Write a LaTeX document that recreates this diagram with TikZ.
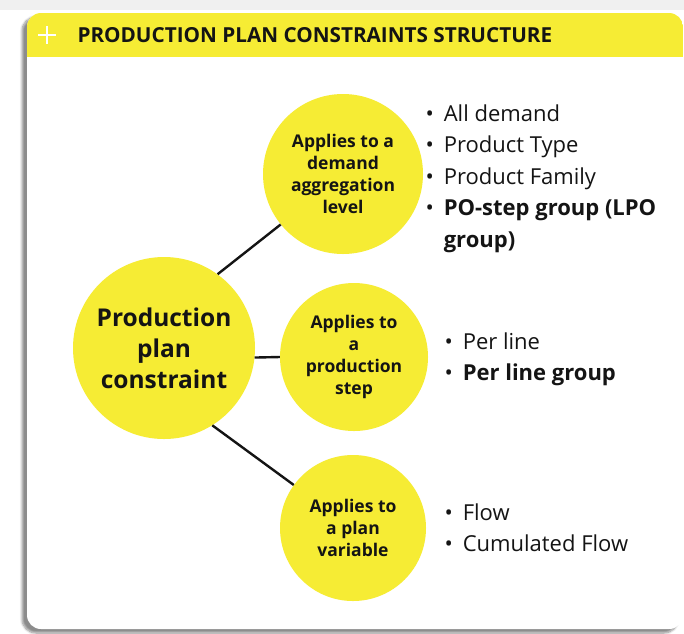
\documentclass[tikz,border=0pt]{standalone}
\usepackage{fontspec}
\setmainfont{Open Sans}
\usetikzlibrary{shadows.blur}
\definecolor{sunny}{RGB}{246,236,52}
\definecolor{ink}{RGB}{20,20,20}
\tikzstyle{card} = [fill=white, rounded corners=14pt,
                    blur shadow={shadow xshift=-5pt, shadow yshift=-4pt,
                                 shadow blur steps=8, shadow opacity=45}]
\tikzstyle{bubble} = [circle, fill=sunny, text=ink, align=center,
                      inner sep=0pt, font=\bfseries\fontsize{17.5}{22}\selectfont]
\tikzstyle{items} = [anchor=north west, text=ink, align=left,
                     font=\fontsize{22}{31.5}\selectfont]
\tikzstyle{link} = [draw=ink, line width=2.4pt]
\newcommand{\itm}{\textbullet\hspace{10pt}}

\begin{document}
\begin{tikzpicture}[x=1pt,y=-1pt]
  \useasboundingbox (0,0) rectangle (684,633);
  \fill[black!6] (0,0) rectangle (684,10);
  \path[card] (27,13) rectangle (683,629);
  \begin{scope}
    \clip[rounded corners=14pt] (27,13) rectangle (683,629);
    \fill[sunny] (27,13) rectangle (683,57);
  \end{scope}
  \draw[white, line width=2.6pt] (38,35) -- (56,35) (47,26) -- (47,44);
  \node[anchor=west, text=ink, font=\bfseries\fontsize{20.7}{24}\selectfont]
    (title) at (74,35) {PRODUCTION PLAN CONSTRAINTS STRUCTURE};

  \node[bubble, minimum size=182pt,
        font=\bfseries\fontsize{24.5}{31}\selectfont] (root) at (164,348)
    {Production\\plan\\constraint};
  \node[bubble, minimum size=160pt] (demand) at (343,174)
    {Applies to a\\demand\\aggregation\\level};
  \node[bubble, minimum size=148pt] (stepnode) at (354,357)
    {Applies to\\a\\production\\step};
  \node[bubble, minimum size=146pt] (variable) at (353,528)
    {Applies to\\a plan\\variable};

  \draw[link] (root.54) -- (demand.219);
  \draw[link] (root.354) -- (stepnode.180);
  \draw[link] (root.302) -- (variable.144);

  \node[items] (demandlist) at (422,101)
    {\itm All demand\\
     \itm Product Type\\
     \itm Product Family\\
     \itm\textbf{PO-step group (LPO}\\
     \phantom{\itm}\textbf{group)}};
  \node[items] (steplist) at (441,329)
    {\itm Per line\\
     \itm\textbf{Per line group}};
  \node[items] (variablelist) at (441,500)
    {\itm Flow\\
     \itm Cumulated Flow};
\end{tikzpicture}
\end{document}
